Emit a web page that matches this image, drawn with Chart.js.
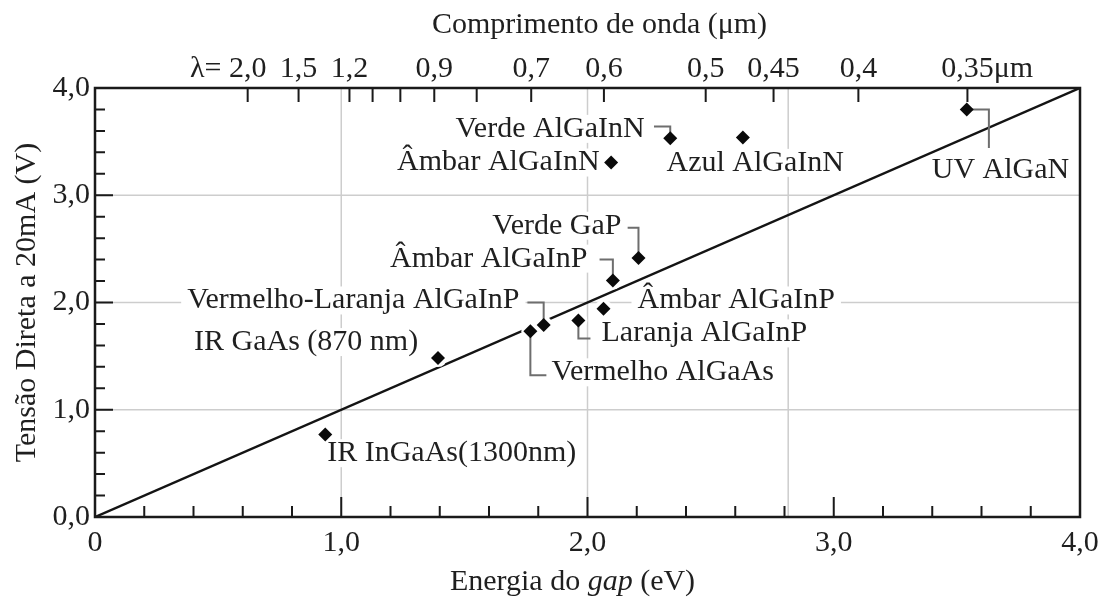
<!DOCTYPE html>
<html>
<head>
<meta charset="utf-8">
<script src="https://cdn.jsdelivr.net/npm/chart.js@4.4.1/dist/chart.umd.min.js"></script>
<style>
  html, body { margin: 0; padding: 0; background: #fff; }
  canvas { display: block; }
</style>
</head>
<body>
<canvas id="chart" width="1108" height="598"></canvas>
<script>
// LED forward voltage at 20 mA against the band-gap energy of the semiconductor

const ledNames = [
  'IR InGaAs(1300nm)', 'IR GaAs (870 nm)', 'Vermelho AlGaAs', 'Vermelho-Laranja AlGaInP',
  'Laranja AlGaInP', 'Âmbar AlGaInP', 'Âmbar AlGaInP', 'Âmbar AlGaInN',
  'Verde GaP', 'Verde AlGaInN', 'Azul AlGaInN', 'UV AlGaN'
];
const gapEnergy      = [0.935, 1.393, 1.768, 1.822, 1.963, 2.065, 2.103, 2.096, 2.207, 2.336, 2.631, 3.54];   // eV
const forwardVoltage = [0.769, 1.482, 1.733, 1.790, 1.833, 1.941, 2.205, 3.305, 2.416, 3.532, 3.538, 3.80];  // V

// reference line V = E
const refLineEnergy  = [0, 4];
const refLineVoltage = [0, 4];

const energyTickLabels  = ['0', '1,0', '2,0', '3,0', '4,0'];
const voltageTickLabels = ['0,0', '1,0', '2,0', '3,0', '4,0'];

// wavelength scale along the top (µm)
const wavelengths      = [2.0, 1.5, 1.2, 1.1, 1.0, 0.9, 0.8, 0.7, 0.6, 0.5, 0.45, 0.4, 0.35];
const wavelengthLabels = ['2,0', '1,5', '1,2', '', '', '0,9', '', '0,7', '0,6', '0,5', '0,45', '0,4', '0,35'];

const energyGuides  = [1, 2, 2.815];
const voltageGuides = [1, 2, 3];

// label placement in data units; null in a leader path means "the point's own coordinate"
const labelLayout = [
  { i: 0,  x: 0.943, y: 0.595, align: 'left' },
  { i: 1,  x: 0.402, y: 1.631, align: 'left' },
  { i: 2,  x: 1.854, y: 1.349, align: 'left',  leader: [[null, null], [null, 1.321], [1.833, 1.321]] },
  { i: 3,  x: 1.724, y: 2.019, align: 'right', leader: [[1.756, 2.0], [null, 2.0], [null, null]] },
  { i: 4,  x: 2.057, y: 1.712, align: 'left',  leader: [[null, null], [null, 1.665], [2.012, 1.665]] },
  { i: 5,  x: 2.203, y: 2.019, align: 'left' },
  { i: 6,  x: 2.000, y: 2.409, align: 'right', leader: [[2.049, 2.4], [null, 2.4], [null, null]] },
  { i: 7,  x: 2.049, y: 3.305, align: 'right' },
  { i: 8,  x: 2.138, y: 2.716, align: 'right', leader: [[2.163, 2.698], [null, 2.698], [null, null]] },
  { i: 9,  x: 2.232, y: 3.619, align: 'right', leader: [[2.27, 3.64], [null, 3.64], [null, null]] },
  { i: 10, x: 2.321, y: 3.302, align: 'left' },
  { i: 11, x: 3.398, y: 3.237, align: 'left',  leader: [[null, null], [3.63, null], [3.63, 3.44]] }
];

const PHOTON_EV_UM = 1.24;            // E (eV) = 1.24 / λ (µm)
const FONT_FAMILY = "'Liberation Serif', 'Times New Roman', serif";
const FONT_SIZE = 30;
const TEXT_COLOR = '#1f1f1f';
const AXIS_COLOR = '#1a1a1a';
const LABEL_FONT = FONT_SIZE + 'px ' + FONT_FAMILY;
const LINE_HEIGHT = FONT_SIZE * 1.2;
const TOP_TICK_LEN = 14;
const TOP_TICK_PAD = 1;

Chart.defaults.font.family = FONT_FAMILY;
Chart.defaults.font.size = FONT_SIZE;
Chart.defaults.color = TEXT_COLOR;

const points  = gapEnergy.map((e, k) => ({ x: e, y: forwardVoltage[k] }));
const refLine = refLineEnergy.map((e, k) => ({ x: e, y: refLineVoltage[k] }));

function labelAt(v, labels) {
  const k = Math.round(v);
  return Math.abs(v - k) < 1e-6 && labels[k] !== undefined ? labels[k] : '';
}

function labelBox(ctx, x, y, l) {
  const w = ctx.measureText(ledNames[l.i]).width;
  const px = x.getPixelForValue(l.x);
  return { left: l.align === 'left' ? px : px - w, w, cy: y.getPixelForValue(l.y) };
}

function seg(ctx, x1, y1, x2, y2) { ctx.moveTo(x1, y1); ctx.lineTo(x2, y2); }

const annotations = {
  id: 'annotations',
  beforeDatasetsDraw(chart) {
    const { ctx, chartArea: a, scales: { x, y } } = chart;
    ctx.save();
    ctx.strokeStyle = '#cdcdcd';
    ctx.lineWidth = 1.5;
    ctx.beginPath();
    energyGuides.forEach(v => { const px = x.getPixelForValue(v); seg(ctx, px, a.top, px, a.bottom); });
    voltageGuides.forEach(v => { const py = y.getPixelForValue(v); seg(ctx, a.left, py, a.right, py); });
    ctx.stroke();
    // white backing behind each label breaks the guide lines
    ctx.font = LABEL_FONT;
    ctx.fillStyle = '#fff';
    labelLayout.forEach(l => {
      const b = labelBox(ctx, x, y, l);
      ctx.fillRect(b.left - 6, b.cy - 14, b.w + 12, 28);
    });
    ctx.restore();
  },
  afterDatasetDraw(chart, args) {
    if (args.index !== 1) return;   // leaders go between the halos and the markers
    const { ctx, scales: { x, y } } = chart;
    ctx.save();
    ctx.strokeStyle = '#6e6e6e';
    ctx.lineWidth = 2;
    labelLayout.forEach(l => {
      if (!l.leader) return;
      const p = points[l.i];
      ctx.beginPath();
      l.leader.forEach(([lx, ly], k) => {
        const px = x.getPixelForValue(lx === null ? p.x : lx);
        const py = y.getPixelForValue(ly === null ? p.y : ly);
        if (k) ctx.lineTo(px, py); else ctx.moveTo(px, py);
      });
      ctx.stroke();
    });
    ctx.restore();
  },
  afterDatasetsDraw(chart) {
    const { ctx, scales: { x, y } } = chart;
    ctx.save();
    ctx.font = LABEL_FONT;
    ctx.fillStyle = TEXT_COLOR;
    ctx.textBaseline = 'middle';
    ctx.textAlign = 'left';
    labelLayout.forEach(l => {
      const b = labelBox(ctx, x, y, l);
      ctx.fillText(ledNames[l.i], b.left, b.cy);
    });
    ctx.restore();
  },
  afterDraw(chart) {
    const { ctx, chartArea: a, scales: { x, y, x2 } } = chart;
    ctx.save();
    // frame
    ctx.strokeStyle = AXIS_COLOR;
    ctx.lineWidth = 2.5;
    ctx.strokeRect(a.left, a.top, a.right - a.left, a.bottom - a.top);
    // inward tick marks on all three axes
    ctx.lineWidth = 2;
    ctx.beginPath();
    x.ticks.forEach(t => {
      if (t.value <= 0 || t.value >= 4) return;
      const px = x.getPixelForValue(t.value);
      const len = Math.abs(t.value - Math.round(t.value)) < 1e-6 ? 20 : 11;
      seg(ctx, px, a.bottom, px, a.bottom - len);
    });
    y.ticks.forEach(t => {
      if (t.value <= 0 || t.value >= 4) return;
      const py = y.getPixelForValue(t.value);
      const len = Math.abs(t.value - Math.round(t.value)) < 1e-6 ? 18 : 10;
      seg(ctx, a.left, py, a.left + len, py);
    });
    wavelengths.forEach(w => {
      const px = x2.getPixelForValue(PHOTON_EV_UM / w);
      seg(ctx, px, a.top, px, a.top + TOP_TICK_LEN);
    });
    ctx.stroke();

    // "λ=" before the first wavelength label and the unit after the last one
    ctx.font = LABEL_FONT;
    ctx.fillStyle = TEXT_COLOR;
    ctx.textBaseline = 'middle';
    const ly = x2.bottom - TOP_TICK_PAD - LINE_HEIGHT / 2;
    const firstPx = x2.getPixelForValue(PHOTON_EV_UM / wavelengths[0]);
    const lastPx = x2.getPixelForValue(PHOTON_EV_UM / wavelengths[wavelengths.length - 1]);
    ctx.textAlign = 'right';
    ctx.fillText('λ= ', firstPx - ctx.measureText(wavelengthLabels[0]).width / 2, ly);
    ctx.textAlign = 'left';
    ctx.fillText('μm', lastPx + ctx.measureText(wavelengthLabels[wavelengthLabels.length - 1]).width / 2, ly);

    // axis titles above and below
    ctx.textBaseline = 'alphabetic';
    ctx.textAlign = 'center';
    ctx.fillText('Comprimento de onda (μm)', (a.left + a.right) / 2 + 12, 33);

    const parts = [['Energia do ', ''], ['gap', 'italic '], [' (eV)', '']];
    let total = 0;
    parts.forEach(p => { ctx.font = p[1] + LABEL_FONT; p.push(ctx.measureText(p[0]).width); total += p[2]; });
    let cx = (a.left + a.right) / 2 - 15 - total / 2;
    ctx.textAlign = 'left';
    parts.forEach(p => { ctx.font = p[1] + LABEL_FONT; ctx.fillText(p[0], cx, 590); cx += p[2]; });
    ctx.restore();
  }
};

new Chart(document.getElementById('chart'), {
  type: 'scatter',
  data: {
    datasets: [
      { label: 'V = E', data: refLine, showLine: true, borderColor: '#141414', borderWidth: 2.5,
        pointRadius: 0, order: 3 },
      { label: 'halo', data: points, pointStyle: 'circle', pointRadius: 9, pointBackgroundColor: '#fff',
        pointBorderWidth: 0, order: 2 },
      { label: 'LEDs', data: points, pointStyle: 'rectRot', pointRadius: 7, pointBackgroundColor: '#0a0a0a',
        pointBorderWidth: 0, order: 1 }
    ]
  },
  options: {
    responsive: false,
    animation: false,
    devicePixelRatio: 1,
    layout: { padding: { left: 0, right: 28, top: 0, bottom: 0 } },
    plugins: { legend: { display: false }, tooltip: { enabled: false } },
    scales: {
      x: {
        type: 'linear', position: 'bottom', min: 0, max: 4,
        grid: { display: false, drawTicks: false }, border: { display: false },
        ticks: { stepSize: 0.2, autoSkip: false, maxRotation: 0, padding: 8,
                 callback: v => labelAt(v, energyTickLabels) },
        afterFit: s => { s.height = 81; }
      },
      x2: {
        type: 'linear', position: 'top', min: 0, max: 4,
        grid: { display: false, drawTicks: false }, border: { display: false },
        afterBuildTicks: s => { s.ticks = wavelengths.map(w => ({ value: PHOTON_EV_UM / w })); },
        ticks: { autoSkip: false, maxRotation: 0, padding: TOP_TICK_PAD,
                 callback: (v, k) => wavelengthLabels[k] },
        afterFit: s => { s.height = 88; }
      },
      y: {
        type: 'linear', min: 0, max: 4,
        grid: { display: false, drawTicks: false }, border: { display: false },
        ticks: { stepSize: 0.2, autoSkip: false, padding: 5,
                 callback: v => labelAt(v, voltageTickLabels) },
        title: { display: true, text: 'Tensão Direta a 20mA (V)', padding: { top: 9, bottom: 0 } },
        afterFit: s => { s.width = 95; }
      }
    }
  },
  plugins: [annotations]
});
</script>
</body>
</html>
